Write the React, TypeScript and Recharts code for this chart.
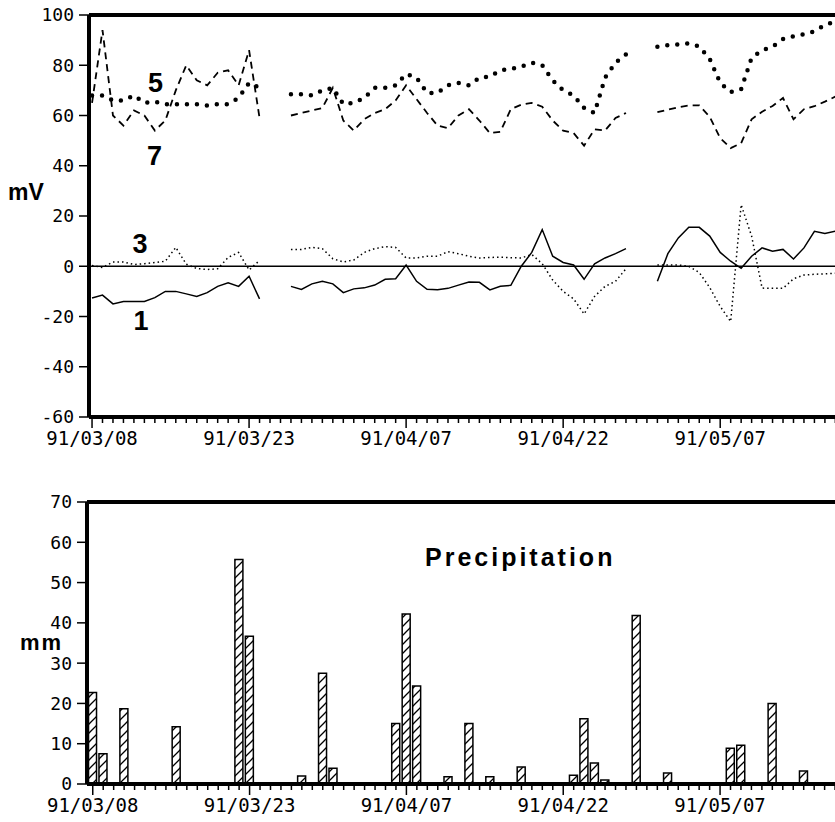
import React from 'react';
import { LineChart, Line, BarChart, Bar, XAxis, YAxis, ReferenceLine } from 'recharts';

// day 0 = 91/03/08
const dayIndex = Array.from({ length: 72 }, (_, i) => i);
const majorDays = [0, 15, 30, 45, 60];
const dateLabels = ['91/03/08', '91/03/23', '91/04/07', '91/04/22', '91/05/07'];
const mvTicks = [-60, -40, -20, 0, 20, 40, 60, 80, 100];
const mmTicks = [0, 10, 20, 30, 40, 50, 60, 70];

// electrode potentials (mV), null = no record
const s1 = [
  -12.6, -11.5, -15, -14, -14, -14, -12.5, -10, -10, -11, -12, -10.5, -8, -6.6, -8, -4, -13, null, null,
  -8, -9.2, -7, -6, -7, -10.5, -9, -8.6, -7.5, -5.2, -5, 0.5, -6, -9.2, -9.4, -8.8, -7.5, -6.3, -6.4, -9.4,
  -8, -7.6, 0, 5.5, 14.6, 4, 1.5, 0.5, -5.2, 1, 3.3, 5, 7, null, null,
  -6, 5, 11.3, 15.5, 15.5, 12, 5.5, 2, -0.8, 4, 7.3, 6, 6.7, 2.9, 7.3, 13.9, 13, 14,
];
const s3 = [
  0.3, -0.5, 1.7, 1.7, 0.7, 1, 1.5, 2, 7.5, 0.8, -0.9, -1.3, -1, 3.5, 5.5, -1.5, 2.3, null, null,
  6.7, 6.7, 7.5, 7, 3, 1.7, 2.5, 5.5, 7, 7.8, 7.5, 3.3, 3.3, 4, 4, 5.8, 5, 4, 3.3, 3.5,
  3.6, 3.4, 3.3, 4.7, 1, -5.5, -10, -13, -19, -12, -8, -6, -1, null, null,
  0.5, 0.5, 0.5, 0, -2.5, -8.5, -16, -22, 24.5, 12, -8.7, -8.8, -8.8, -5, -3.5, -3.2, -3, -2.8,
];
const s5 = [
  68, 68, 66, 66, 68, 65, 65.5, 64.5, 64.5, 64.5, 64.5, 64, 64.5, 64.5, 67, 73, 71, null, null,
  68.5, 68.5, 68, 70, 71, 64.5, 65, 67, 71, 71, 72, 76.5, 75, 69, 69, 72, 73, 72, 75, 75.5,
  78, 78.5, 79.5, 81, 80, 74, 70, 68, 63, 61, 75, 81, 84.3, null, null,
  87.4, 88, 88.3, 88.7, 87.5, 82.5, 73, 69.3, 70.4, 83, 86, 87.4, 90.4, 91.5, 92.3, 93.5, 96, 97.5,
];
const s7 = [
  65, 94, 60, 56, 62, 60, 54, 58, 70, 80, 74, 72, 77, 78, 72, 86, 59, null, null,
  60, 61, 62, 63, 71, 58, 54, 58.5, 61, 62.5, 66, 72, 66.5, 61, 56, 55, 60, 62.5, 58, 53,
  53.5, 62.5, 64.3, 65, 63.5, 58, 54, 53, 48, 54.5, 54, 59, 61, null, null,
  61.3, 62.3, 63.3, 64, 64, 59.5, 51, 47, 49, 58.5, 61.5, 63.8, 67, 58.5, 62.5, 63.7, 65.5, 67.5,
];

// precipitation (mm)
const rainDays = [0, 1, 3, 8, 14, 15, 20, 22, 23, 29, 30, 31, 34, 36, 38, 41, 46, 47, 48, 49, 52, 55, 61, 62, 65, 68];
const rainMm = [22.7, 7.5, 18.7, 14.2, 55.7, 36.7, 2, 27.5, 3.9, 15, 42.2, 24.3, 1.8, 15, 1.8, 4.2, 2.2, 16.2, 5.2, 1, 41.8, 2.7, 8.9, 9.6, 20, 3.2];

const lineData = dayIndex.map((d, i) => ({ day: d, s1: s1[i], s3: s3[i], s5: s5[i], s7: s7[i] }));
const barData = rainDays.map((d, i) => ({ day: d, mm: rainMm[i] }));

const MONO = '"DejaVu Sans Mono", "Liberation Mono", monospace';
const BOLD = '"Liberation Sans", Arial, sans-serif';

const DayTick = (props: any) => {
  const { x, y, payload } = props;
  const idx = majorDays.indexOf(payload.value);
  const major = idx >= 0;
  return (
    <g>
      <line x1={x} y1={y} x2={x} y2={y + (major ? 11 : 6)} stroke="#000" strokeWidth={1.5} />
      {major && (
        <text x={x} y={y + 21} dy="0.355em" textAnchor="middle" fill="#000" fontSize={19} fontFamily={MONO}>
          {dateLabels[idx]}
        </text>
      )}
    </g>
  );
};

const yTick = { fill: '#000', fontSize: 18, fontFamily: MONO };

export default function App() {
  return (
    <div style={{ position: 'absolute', left: 0, top: 0, width: 835, height: 822, overflow: 'hidden', background: '#fff' }}>
      <svg width={0} height={0} style={{ position: 'absolute' }}>
        <defs>
          <pattern id="hatch" patternUnits="userSpaceOnUse" width={9} height={9}>
            <rect width={9} height={9} fill="#fff" />
            <path d="M0,9 L9,0 M-2,2 L2,-2 M7,11 L11,7" stroke="#000" strokeWidth={1.3} />
          </pattern>
        </defs>
      </svg>

      <div style={{ position: 'absolute', left: 0, top: 0 }}>
        <LineChart width={850} height={460} data={lineData} margin={{ top: 15, right: 5, left: 0, bottom: 0 }}>
          <XAxis
            type="number"
            dataKey="day"
            domain={[-0.29, 71.92]}
            ticks={dayIndex}
            interval={0}
            height={43}
            tickSize={0}
            tickMargin={0}
            tickLine={false}
            axisLine={{ stroke: '#000', strokeWidth: 4 }}
            tick={DayTick}
          />
          <YAxis
            domain={[-60, 100]}
            ticks={mvTicks}
            width={89}
            tickSize={10}
            tickMargin={5}
            interval={0}
            axisLine={{ stroke: '#000', strokeWidth: 4 }}
            tickLine={{ stroke: '#000', strokeWidth: 1.5 }}
            tick={yTick}
          />
          <ReferenceLine y={100} stroke="#000" strokeWidth={4} />
          <ReferenceLine y={0} stroke="#000" strokeWidth={1.5} />
          <Line type="linear" dataKey="s1" stroke="#000" strokeWidth={1.5} dot={false} isAnimationActive={false} />
          <Line type="linear" dataKey="s3" stroke="#000" strokeWidth={1.5} strokeDasharray="1.5 3" dot={false} isAnimationActive={false} />
          <Line type="linear" dataKey="s5" stroke="#000" strokeWidth={4.5} strokeDasharray="0 10" strokeLinecap="round" dot={false} isAnimationActive={false} />
          <Line type="linear" dataKey="s7" stroke="#000" strokeWidth={1.8} strokeDasharray="7 5" dot={false} isAnimationActive={false} />
        </LineChart>
      </div>

      <div style={{ position: 'absolute', left: 0, top: 480 }}>
        <BarChart width={850} height={342} data={barData} margin={{ top: 22, right: 5, left: 0, bottom: 0 }}>
          <XAxis
            type="number"
            dataKey="day"
            domain={[-0.55, 71.95]}
            ticks={dayIndex}
            interval={0}
            height={38}
            tickSize={0}
            tickMargin={0}
            tickLine={false}
            axisLine={{ stroke: '#000', strokeWidth: 4 }}
            tick={DayTick}
          />
          <YAxis
            domain={[0, 70]}
            ticks={mmTicks}
            width={87}
            tickSize={10}
            tickMargin={5}
            interval={0}
            axisLine={{ stroke: '#000', strokeWidth: 4 }}
            tickLine={{ stroke: '#000', strokeWidth: 1.5 }}
            tick={yTick}
          />
          <ReferenceLine y={70} stroke="#000" strokeWidth={4} />
          <Bar dataKey="mm" barSize={8} fill="url(#hatch)" stroke="#000" strokeWidth={1.5} isAnimationActive={false} />
        </BarChart>
      </div>

      <svg width={835} height={822} style={{ position: 'absolute', left: 0, top: 0, pointerEvents: 'none' }}>
        <g fontFamily={BOLD} fontWeight="bold" fill="#000">
          <text x={8} y={200} fontSize={23}>mV</text>
          <text x={20} y={650} fontSize={22} letterSpacing={2}>mm</text>
          <text x={155.5} y={92} fontSize={27} textAnchor="middle">5</text>
          <text x={154.5} y={165} fontSize={27} textAnchor="middle">7</text>
          <text x={140} y={253} fontSize={27} textAnchor="middle">3</text>
          <text x={141} y={330} fontSize={27} textAnchor="middle">1</text>
          <text x={425} y={566} fontSize={25} letterSpacing={3}>Precipitation</text>
        </g>
      </svg>
    </div>
  );
}
